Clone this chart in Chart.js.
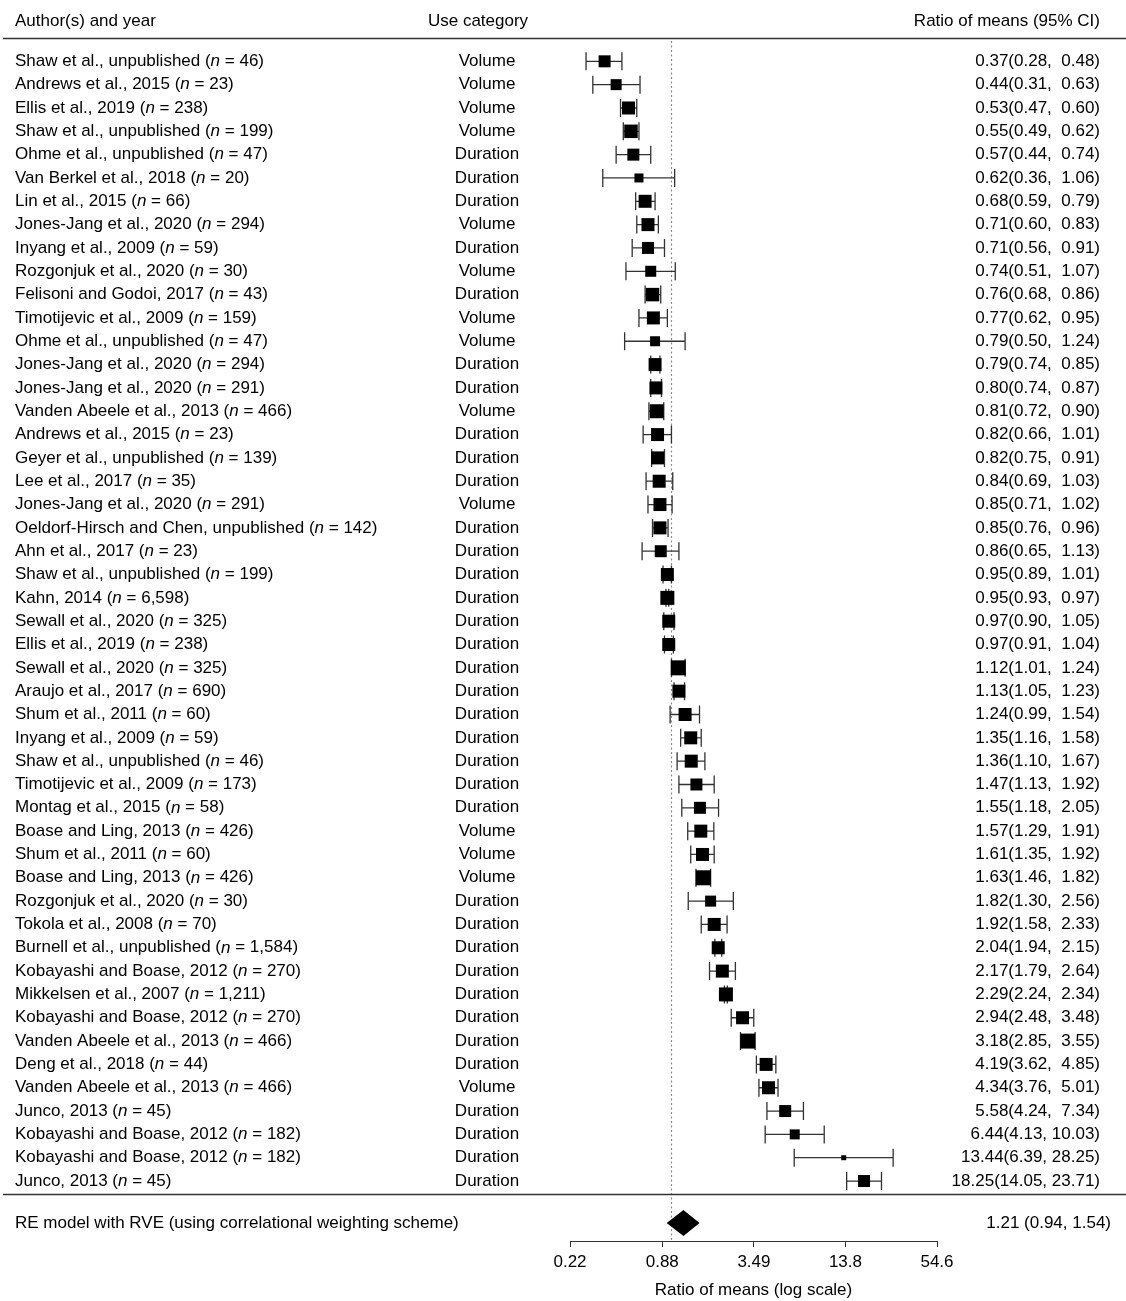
<!DOCTYPE html>
<html>
<head>
<meta charset="utf-8">
<title>Forest plot - ratio of means</title>
<script src="https://cdn.jsdelivr.net/npm/chart.js@4.4.1/dist/chart.umd.min.js"></script>
<style>
  html, body { margin: 0; padding: 0; background: #fff; }
  #wrap { width: 1126px; height: 1301px; }
</style>
</head>
<body>
<div id="wrap"><canvas id="forestChart" width="1126" height="1301"></canvas></div>
<script>
// === Data ===
const authors = [
  'Shaw et al., unpublished', 'Andrews et al., 2015', 'Ellis et al., 2019', 'Shaw et al., unpublished',
  'Ohme et al., unpublished', 'Van Berkel et al., 2018', 'Lin et al., 2015', 'Jones-Jang et al., 2020',
  'Inyang et al., 2009', 'Rozgonjuk et al., 2020', 'Felisoni and Godoi, 2017', 'Timotijevic et al., 2009',
  'Ohme et al., unpublished', 'Jones-Jang et al., 2020', 'Jones-Jang et al., 2020', 'Vanden Abeele et al., 2013',
  'Andrews et al., 2015', 'Geyer et al., unpublished', 'Lee et al., 2017', 'Jones-Jang et al., 2020',
  'Oeldorf-Hirsch and Chen, unpublished', 'Ahn et al., 2017', 'Shaw et al., unpublished', 'Kahn, 2014',
  'Sewall et al., 2020', 'Ellis et al., 2019', 'Sewall et al., 2020', 'Araujo et al., 2017',
  'Shum et al., 2011', 'Inyang et al., 2009', 'Shaw et al., unpublished', 'Timotijevic et al., 2009',
  'Montag et al., 2015', 'Boase and Ling, 2013', 'Shum et al., 2011', 'Boase and Ling, 2013',
  'Rozgonjuk et al., 2020', 'Tokola et al., 2008', 'Burnell et al., unpublished', 'Kobayashi and Boase, 2012',
  'Mikkelsen et al., 2007', 'Kobayashi and Boase, 2012', 'Vanden Abeele et al., 2013', 'Deng et al., 2018',
  'Vanden Abeele et al., 2013', 'Junco, 2013', 'Kobayashi and Boase, 2012', 'Kobayashi and Boase, 2012',
  'Junco, 2013'
];
const sampleSizes = [
  '46', '23', '238', '199', '47', '20', '66', '294', '59', '30', '43', '159', '47', '294', '291', '466',
  '23', '139', '35', '291', '142', '23', '199', '6,598', '325', '238', '325', '690', '60', '59', '46', '173',
  '58', '426', '60', '426', '30', '70', '1,584', '270', '1,211', '270', '466', '44', '466', '45', '182', '182',
  '45'
];
const useCategory = [
  'Volume', 'Volume', 'Volume', 'Volume', 'Duration', 'Duration', 'Duration', 'Volume', 'Duration', 'Volume',
  'Duration', 'Volume', 'Volume', 'Duration', 'Duration', 'Volume', 'Duration', 'Duration', 'Duration', 'Volume',
  'Duration', 'Duration', 'Duration', 'Duration', 'Duration', 'Duration', 'Duration', 'Duration', 'Duration', 'Duration',
  'Duration', 'Duration', 'Duration', 'Volume', 'Volume', 'Volume', 'Duration', 'Duration', 'Duration', 'Duration',
  'Duration', 'Duration', 'Duration', 'Duration', 'Volume', 'Duration', 'Duration', 'Duration', 'Duration'
];
const ratio = [
  0.37, 0.44, 0.53, 0.55, 0.57, 0.62, 0.68, 0.71, 0.71, 0.74, 0.76, 0.77, 0.79, 0.79, 0.80, 0.81,
  0.82, 0.82, 0.84, 0.85, 0.85, 0.86, 0.95, 0.95, 0.97, 0.97, 1.12, 1.13, 1.24, 1.35, 1.36, 1.47,
  1.55, 1.57, 1.61, 1.63, 1.82, 1.92, 2.04, 2.17, 2.29, 2.94, 3.18, 4.19, 4.34, 5.58, 6.44, 13.44,
  18.25
];
const ciLower = [
  0.28, 0.31, 0.47, 0.49, 0.44, 0.36, 0.59, 0.60, 0.56, 0.51, 0.68, 0.62, 0.50, 0.74, 0.74, 0.72,
  0.66, 0.75, 0.69, 0.71, 0.76, 0.65, 0.89, 0.93, 0.90, 0.91, 1.01, 1.05, 0.99, 1.16, 1.10, 1.13,
  1.18, 1.29, 1.35, 1.46, 1.30, 1.58, 1.94, 1.79, 2.24, 2.48, 2.85, 3.62, 3.76, 4.24, 4.13, 6.39,
  14.05
];
const ciUpper = [
  0.48, 0.63, 0.60, 0.62, 0.74, 1.06, 0.79, 0.83, 0.91, 1.07, 0.86, 0.95, 1.24, 0.85, 0.87, 0.90,
  1.01, 0.91, 1.03, 1.02, 0.96, 1.13, 1.01, 0.97, 1.05, 1.04, 1.24, 1.23, 1.54, 1.58, 1.67, 1.92,
  2.05, 1.91, 1.92, 1.82, 2.56, 2.33, 2.15, 2.64, 2.34, 3.48, 3.55, 4.85, 5.01, 7.34, 10.03, 28.25,
  23.71
];
// relative study weight
const studyWeights = [
  12, 11, 13, 13.5, 12, 9, 13, 13, 12, 11, 13.5, 13, 10, 13, 13, 14,
  13, 13, 13, 13, 13, 12, 13, 14, 13, 13, 15, 13, 13, 13, 13, 12,
  12, 13, 13, 15, 11, 13, 13, 13, 14, 13, 15, 13, 13, 12, 10, 5,
  12
];
const pooledLabel = 'RE model with RVE (using correlational weighting scheme)';
const pooledEstimate = [1.21, 0.94, 1.54]; // estimate, lower, upper
const xTicks = [0.22, 0.88, 3.49, 13.8, 54.6];
const headers = ['Author(s) and year', 'Use category', 'Ratio of means (95% CI)'];

const FONT = '"Liberation Sans", Arial, Helvetica, sans-serif';
const POOLED_ROW = 50.8;

Chart.defaults.font.family = FONT;
Chart.defaults.font.size = 17;
Chart.defaults.color = '#000';

function ciText(i) {
  const hi = ciUpper[i].toFixed(2);
  return ratio[i].toFixed(2) + '(' + ciLower[i].toFixed(2) + ', ' + (ciUpper[i] < 10 ? ' ' : '') + hi + ')';
}

function drawAuthor(ctx, i, x0, py) {
  let w = 0;
  const pre = authors[i] + ' (';
  ctx.font = '17px ' + FONT;
  ctx.fillText(pre, x0, py);
  w += ctx.measureText(pre).width;
  ctx.font = 'italic 17px ' + FONT;
  ctx.fillText('n', x0 + w, py);
  w += ctx.measureText('n').width;
  ctx.font = '17px ' + FONT;
  ctx.fillText(' = ' + sampleSizes[i] + ')', x0 + w, py);
}

// === Plugin: whiskers, reference line, text columns, pooled diamond ===
const forestPlugin = {
  id: 'forest',
  beforeDatasetsDraw(chart) {
    const ctx = chart.ctx, xs = chart.scales.x, ys = chart.scales.y;
    ctx.save();
    // dotted line at ratio = 1
    const x1 = Math.round(xs.getPixelForValue(1)) + 0.5;
    ctx.strokeStyle = '#8c8c8c';
    ctx.lineWidth = 1.2;
    ctx.setLineDash([2, 2.5]);
    ctx.beginPath();
    ctx.moveTo(x1, chart.chartArea.top + 3);
    ctx.lineTo(x1, chart.chartArea.bottom);
    ctx.stroke();
    ctx.setLineDash([]);

    // confidence intervals
    ctx.strokeStyle = '#333';
    ctx.lineWidth = 1.3;
    ratio.forEach((r, i) => {
      const py = ys.getPixelForValue(i + 1);
      const a = xs.getPixelForValue(ciLower[i]);
      const b = xs.getPixelForValue(ciUpper[i]);
      ctx.beginPath();
      ctx.moveTo(a, py); ctx.lineTo(b, py);
      ctx.moveTo(a, py - 9); ctx.lineTo(a, py + 9);
      ctx.moveTo(b, py - 9); ctx.lineTo(b, py + 9);
      ctx.stroke();
    });
    ctx.restore();
  },
  afterDraw(chart) {
    const ctx = chart.ctx, xs = chart.scales.x, ys = chart.scales.y;
    ctx.save();

    // rules
    ctx.strokeStyle = '#333';
    ctx.lineWidth = 1.3;
    ctx.beginPath();
    ctx.moveTo(3, 38.5); ctx.lineTo(1126, 38.5);
    ctx.moveTo(3, 1194.5); ctx.lineTo(1126, 1194.5);
    ctx.stroke();

    // pooled diamond
    const py = ys.getPixelForValue(POOLED_ROW);
    ctx.fillStyle = '#000';
    ctx.beginPath();
    ctx.moveTo(xs.getPixelForValue(pooledEstimate[1]), py);
    ctx.lineTo(xs.getPixelForValue(pooledEstimate[0]), py - 13);
    ctx.lineTo(xs.getPixelForValue(pooledEstimate[2]), py);
    ctx.lineTo(xs.getPixelForValue(pooledEstimate[0]), py + 13);
    ctx.closePath();
    ctx.fill();

    // headers
    ctx.fillStyle = '#000';
    ctx.textBaseline = 'middle';
    ctx.font = '17px ' + FONT;
    ctx.textAlign = 'left';
    ctx.fillText(headers[0], 15, 21);
    ctx.textAlign = 'center';
    ctx.fillText(headers[1], 478, 21);
    ctx.textAlign = 'right';
    ctx.fillText(headers[2], 1100, 21);

    // rows
    ratio.forEach((r, i) => {
      const y = ys.getPixelForValue(i + 1);
      ctx.textAlign = 'left';
      drawAuthor(ctx, i, 15, y);
      ctx.font = '17px ' + FONT;
      ctx.textAlign = 'center';
      ctx.fillText(useCategory[i], 487, y);
      ctx.textAlign = 'right';
      ctx.fillText(ciText(i), 1100, y);
    });

    // pooled row text
    ctx.textAlign = 'left';
    ctx.fillText(pooledLabel, 15, py);
    ctx.textAlign = 'right';
    ctx.fillText(pooledEstimate[0].toFixed(2) + ' (' + pooledEstimate[1].toFixed(2) + ', ' +
      pooledEstimate[2].toFixed(2) + ')', 1111, py);
    ctx.restore();
  }
};

// === Chart ===
const ctx = document.getElementById('forestChart').getContext('2d');
const forestChart = new Chart(ctx, {
  type: 'scatter',
  data: {
    datasets: [{
      label: 'Ratio of means',
      data: ratio.map((r, i) => ({ x: r, y: i + 1 })),
      pointStyle: 'rect',
      pointRadius: studyWeights.map(w => w / Math.SQRT2),
      pointHoverRadius: studyWeights.map(w => w / Math.SQRT2),
      backgroundColor: '#000',
      borderWidth: 0
    }]
  },
  options: {
    responsive: false,
    animation: false,
    layout: { padding: { left: 570, right: 189, top: 38, bottom: 0 } },
    plugins: {
      legend: { display: false },
      tooltip: { enabled: false }
    },
    scales: {
      x: {
        type: 'logarithmic',
        min: 0.22,
        max: 54.6,
        afterBuildTicks: s => { s.ticks = xTicks.map(v => ({ value: v })); },
        afterFit: s => { s.height = 60; },
        ticks: {
          callback: v => String(v),
          padding: 5,
          color: '#000',
          font: { size: 17 },
          maxRotation: 0,
          autoSkip: false
        },
        grid: { drawOnChartArea: false, drawTicks: true, tickLength: 6, color: '#333' },
        border: { display: true, color: '#333', width: 1 },
        title: {
          display: true,
          text: 'Ratio of means (log scale)',
          color: '#000',
          font: { size: 17 },
          padding: { top: 0, bottom: 0 }
        }
      },
      y: {
        type: 'linear',
        display: false,
        reverse: true,
        min: 0,
        max: 51.57
      }
    }
  },
  plugins: [forestPlugin]
});
</script>
</body>
</html>
